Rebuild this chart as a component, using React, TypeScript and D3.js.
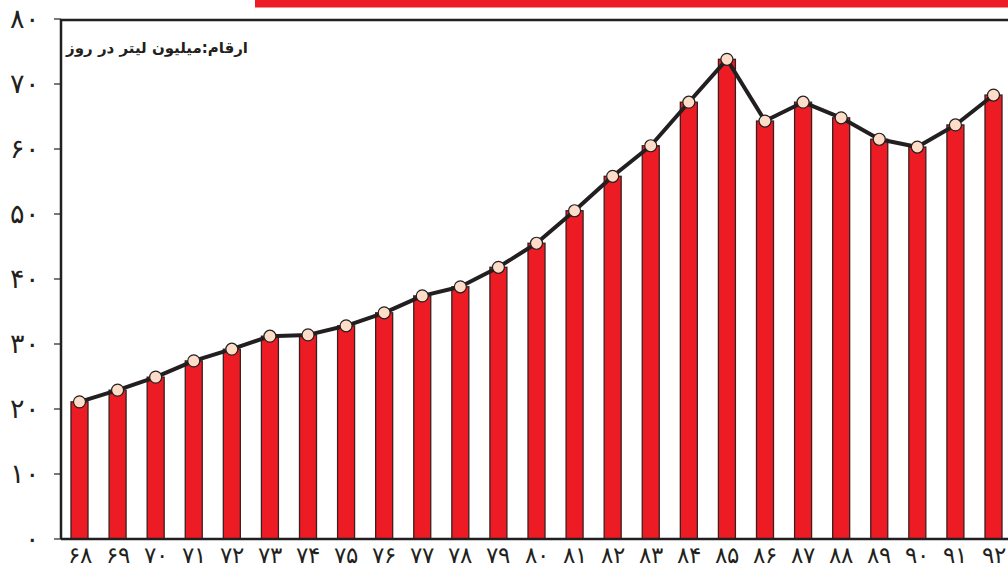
import React from "react";
import * as d3 from "d3";

const years = ["68","69","70","71","72","73","74","75","76","77","78","79","80","81","82","83","84","85","86","87","88","89","90","91","92"];
const values = [21.1,22.9,24.9,27.4,29.2,31.2,31.4,32.8,34.8,37.4,38.8,41.8,45.5,50.5,55.8,60.5,67.2,73.8,64.3,67.2,64.8,61.5,60.3,63.7,68.3];
const yTicks = [0,10,20,30,40,50,60,70,80];
const unitLabel = "ارقام:میلیون لیتر در روز";

const fa = (s: string | number) => String(s).replace(/\d/g, (d) => "۰۱۲۳۴۵۶۷۸۹"[+d]);

export default function App() {
  const W = 1008, H = 569;
  const left = 61, bottom = 539, top = 19;
  const x = d3.scalePoint<string>().domain(years).range([79.5, 993.5]);
  const y = d3.scaleLinear().domain([0, 80]).range([bottom, top]);
  const bw = 17;
  const line = d3.line<number>().x((_, i) => x(years[i])!).y((v) => y(v));
  const font = "'DejaVu Sans', sans-serif";
  return (
    <svg width={W} height={H} style={{ position: "absolute", left: 0, top: 0 }}>
      <rect x={255} y={0} width={W - 255} height={7.5} fill="#ed1c24" />
      {values.map((v, i) => (
        <rect key={i} x={x(years[i])! - bw / 2} y={y(v)} width={bw} height={bottom - y(v)}
          fill="#ed1c24" stroke="#3b1e1e" strokeWidth={1.3} />
      ))}
      <line x1={left} x2={W} y1={top + 1} y2={top + 1} stroke="#231f20" strokeWidth={2.5} />
      <line x1={left} x2={left} y1={top} y2={bottom} stroke="#231f20" strokeWidth={2.5} />
      <line x1={left} x2={W} y1={bottom} y2={bottom} stroke="#231f20" strokeWidth={2.5} />
      {yTicks.map((t) => (
        <g key={t}>
          <line x1={54} x2={left} y1={y(t)} y2={y(t)} stroke="#231f20" strokeWidth={1.2} />
          <text x={40} y={y(t) + 9} textAnchor="end" fontFamily={font} fontSize={27} fontWeight={300} fill="#231f20">{fa(t)}</text>
        </g>
      ))}
      {years.map((yr) => (
        <text key={yr} x={x(yr)} y={563} textAnchor="middle" fontFamily={font} fontSize={23} fontWeight={300} fill="#231f20">{fa(yr)}</text>
      ))}
      <path d={line(values)!} fill="none" stroke="#231f20" strokeWidth={4} strokeLinejoin="round" />
      {values.map((v, i) => (
        <circle key={i} cx={x(years[i])} cy={y(v)} r={6} fill="#fddcc8" stroke="#231f20" strokeWidth={1.2} />
      ))}
      <text x={248} y={53} textAnchor="start" direction="rtl" fontFamily={font} fontWeight="bold" fontSize={15} fill="#231f20">{unitLabel}</text>
    </svg>
  );
}
